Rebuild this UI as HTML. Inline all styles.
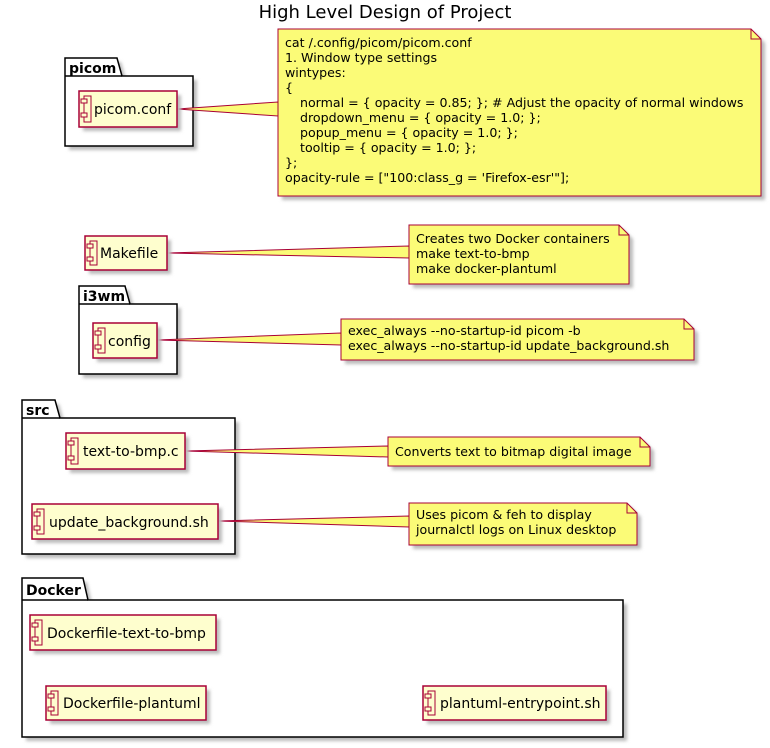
<!DOCTYPE html>
<html><head><meta charset="utf-8"><style>
html,body{margin:0;padding:0;background:#fff;}
svg{display:block;font-family:"DejaVu Sans","Liberation Sans",sans-serif;}
</style></head><body>
<svg width="770" height="748" viewBox="0 0 770 748" xmlns="http://www.w3.org/2000/svg">
<defs>
<filter id="sh" x="-10%" y="-10%" width="130%" height="140%"><feGaussianBlur stdDeviation="1.5"/></filter>
</defs>
<text x="385" y="18" font-size="18" text-anchor="middle">High Level Design of Project</text>

<g stroke="#000" stroke-width="1.5" fill="#fff">
<g>
<path d="M69,62 L121,62 L126,80 L197,80 L197,150 L69,150 Z" fill="#bbb" stroke="none" filter="url(#sh)"/>
<path d="M65,58 L117,58 L122,76 L193,76 L193,146 L65,146 Z"/><line x1="65" y1="76" x2="122" y2="76"/>
</g>
<g>
<path d="M83,290 L129,290 L134,308 L181,308 L181,378 L83,378 Z" fill="#bbb" stroke="none" filter="url(#sh)"/>
<path d="M79,286 L125,286 L130,304 L177,304 L177,374 L79,374 Z"/><line x1="79" y1="304" x2="130" y2="304"/>
</g>
<g>
<path d="M26,404 L59,404 L64,422 L239,422 L239,558 L26,558 Z" fill="#bbb" stroke="none" filter="url(#sh)"/>
<path d="M22,400 L55,400 L60,418 L235,418 L235,554 L22,554 Z"/><line x1="22" y1="418" x2="60" y2="418"/>
</g>
<g>
<path d="M26,582 L87,582 L92,604 L627,604 L627,741 L26,741 Z" fill="#bbb" stroke="none" filter="url(#sh)"/>
<path d="M22,578 L83,578 L88,600 L623,600 L623,737 L22,737 Z"/><line x1="22" y1="600" x2="88" y2="600"/>
</g>
</g>
<g font-size="14" font-weight="bold">
<text x="69" y="73">picom</text>
<text x="83" y="301">i3wm</text>
<text x="26" y="415">src</text>
<text x="26" y="595">Docker</text>
</g>

<g stroke="#A80036" stroke-width="1" fill="#FBFB77">
<polygon points="177,109 278,102 278,116"/>
<polygon points="167,253 409,246 409,258"/>
<polygon points="157,340 341,333 341,345"/>
<polygon points="185,451 388,446 388,457"/>
<polygon points="218,521 409,516 409,527"/>
</g>

<g font-size="12.6">
<g>
<path d="M282,33 L755,33 L765,43 L765,200 L282,200 Z" fill="#bbb" filter="url(#sh)"/>
<path d="M278,29 L751,29 L761,39 L761,196 L278,196 Z" fill="#FBFB77" stroke="#A80036"/>
<path d="M751,29 L751,39 L761,39" fill="none" stroke="#A80036"/>
<text x="285" y="47">cat /.config/picom/picom.conf</text>
<text x="285" y="62">1. Window type settings</text>
<text x="285" y="77">wintypes:</text>
<text x="285" y="92">{</text>
<text x="300" y="107">normal = { opacity = 0.85; }; # Adjust the opacity of normal windows</text>
<text x="300" y="122">dropdown_menu = { opacity = 1.0; };</text>
<text x="300" y="137">popup_menu = { opacity = 1.0; };</text>
<text x="300" y="152">tooltip = { opacity = 1.0; };</text>
<text x="285" y="167">};</text>
<text x="285" y="182">opacity-rule = ["100:class_g = 'Firefox-esr'"];</text>
</g>
<g>
<path d="M413,229 L623,229 L633,239 L633,288 L413,288 Z" fill="#bbb" filter="url(#sh)"/>
<path d="M409,225 L619,225 L629,235 L629,284 L409,284 Z" fill="#FBFB77" stroke="#A80036"/>
<path d="M619,225 L619,235 L629,235" fill="none" stroke="#A80036"/>
<text x="416" y="243">Creates two Docker containers</text>
<text x="416" y="258">make text-to-bmp</text>
<text x="416" y="273">make docker-plantuml</text>
</g>
<g>
<path d="M345,323 L688,323 L698,333 L698,364 L345,364 Z" fill="#bbb" filter="url(#sh)"/>
<path d="M341,319 L684,319 L694,329 L694,360 L341,360 Z" fill="#FBFB77" stroke="#A80036"/>
<path d="M684,319 L684,329 L694,329" fill="none" stroke="#A80036"/>
<text x="348" y="335">exec_always --no-startup-id picom -b</text>
<text x="348" y="350">exec_always --no-startup-id update_background.sh</text>
</g>
<g>
<path d="M392,441 L644,441 L654,451 L654,470 L392,470 Z" fill="#bbb" filter="url(#sh)"/>
<path d="M388,437 L640,437 L650,447 L650,466 L388,466 Z" fill="#FBFB77" stroke="#A80036"/>
<path d="M640,437 L640,447 L650,447" fill="none" stroke="#A80036"/>
<text x="395" y="456">Converts text to bitmap digital image</text>
</g>
<g>
<path d="M413,507 L631,507 L641,517 L641,549 L413,549 Z" fill="#bbb" filter="url(#sh)"/>
<path d="M409,503 L627,503 L637,513 L637,545 L409,545 Z" fill="#FBFB77" stroke="#A80036"/>
<path d="M627,503 L627,513 L637,513" fill="none" stroke="#A80036"/>
<text x="416" y="519">Uses picom &amp; feh to display</text>
<text x="416" y="534">journalctl logs on Linux desktop</text>
</g>
</g>

<g font-size="14">
<g>
<rect x="83" y="95" width="98" height="36" fill="#bbb" filter="url(#sh)"/>
<rect x="79" y="91" width="98" height="36" fill="#FEFECE" stroke="#A80036" stroke-width="1.5"/>
<rect x="84" y="96" width="7" height="26" fill="#FEFECE" stroke="#A80036"/>
<rect x="81" y="99" width="6" height="4" fill="#FEFECE" stroke="#A80036"/>
<rect x="81" y="113" width="6" height="4" fill="#FEFECE" stroke="#A80036"/>
<text x="94" y="114">picom.conf</text>
</g>
<g>
<rect x="89" y="240" width="82" height="34" fill="#bbb" filter="url(#sh)"/>
<rect x="85" y="236" width="82" height="34" fill="#FEFECE" stroke="#A80036" stroke-width="1.5"/>
<rect x="90" y="241" width="7" height="24" fill="#FEFECE" stroke="#A80036"/>
<rect x="87" y="244" width="6" height="4" fill="#FEFECE" stroke="#A80036"/>
<rect x="87" y="257" width="6" height="4" fill="#FEFECE" stroke="#A80036"/>
<text x="100" y="258">Makefile</text>
</g>
<g>
<rect x="97" y="327" width="64" height="35" fill="#bbb" filter="url(#sh)"/>
<rect x="93" y="323" width="64" height="35" fill="#FEFECE" stroke="#A80036" stroke-width="1.5"/>
<rect x="98" y="328" width="7" height="25" fill="#FEFECE" stroke="#A80036"/>
<rect x="95" y="331" width="6" height="4" fill="#FEFECE" stroke="#A80036"/>
<rect x="95" y="345" width="6" height="4" fill="#FEFECE" stroke="#A80036"/>
<text x="108" y="346">config</text>
</g>
<g>
<rect x="70" y="437" width="119" height="36" fill="#bbb" filter="url(#sh)"/>
<rect x="66" y="433" width="119" height="36" fill="#FEFECE" stroke="#A80036" stroke-width="1.5"/>
<rect x="71" y="438" width="7" height="26" fill="#FEFECE" stroke="#A80036"/>
<rect x="68" y="441" width="6" height="4" fill="#FEFECE" stroke="#A80036"/>
<rect x="68" y="456" width="6" height="4" fill="#FEFECE" stroke="#A80036"/>
<text x="83" y="456">text-to-bmp.c</text>
</g>
<g>
<rect x="36" y="508" width="186" height="35" fill="#bbb" filter="url(#sh)"/>
<rect x="32" y="504" width="186" height="35" fill="#FEFECE" stroke="#A80036" stroke-width="1.5"/>
<rect x="37" y="509" width="7" height="25" fill="#FEFECE" stroke="#A80036"/>
<rect x="34" y="512" width="6" height="4" fill="#FEFECE" stroke="#A80036"/>
<rect x="34" y="526" width="6" height="4" fill="#FEFECE" stroke="#A80036"/>
<text x="49" y="527">update_background.sh</text>
</g>
<g>
<rect x="34" y="619" width="186" height="35" fill="#bbb" filter="url(#sh)"/>
<rect x="30" y="615" width="186" height="35" fill="#FEFECE" stroke="#A80036" stroke-width="1.5"/>
<rect x="35" y="620" width="7" height="25" fill="#FEFECE" stroke="#A80036"/>
<rect x="32" y="623" width="6" height="4" fill="#FEFECE" stroke="#A80036"/>
<rect x="32" y="637" width="6" height="4" fill="#FEFECE" stroke="#A80036"/>
<text x="47" y="638">Dockerfile-text-to-bmp</text>
</g>
<g>
<rect x="50" y="690" width="160" height="34" fill="#bbb" filter="url(#sh)"/>
<rect x="46" y="686" width="160" height="34" fill="#FEFECE" stroke="#A80036" stroke-width="1.5"/>
<rect x="51" y="691" width="7" height="24" fill="#FEFECE" stroke="#A80036"/>
<rect x="48" y="694" width="6" height="4" fill="#FEFECE" stroke="#A80036"/>
<rect x="48" y="707" width="6" height="4" fill="#FEFECE" stroke="#A80036"/>
<text x="63" y="708">Dockerfile-plantuml</text>
</g>
<g>
<rect x="427" y="690" width="183" height="34" fill="#bbb" filter="url(#sh)"/>
<rect x="423" y="686" width="183" height="34" fill="#FEFECE" stroke="#A80036" stroke-width="1.5"/>
<rect x="428" y="691" width="7" height="24" fill="#FEFECE" stroke="#A80036"/>
<rect x="425" y="694" width="6" height="4" fill="#FEFECE" stroke="#A80036"/>
<rect x="425" y="707" width="6" height="4" fill="#FEFECE" stroke="#A80036"/>
<text x="440" y="708">plantuml-entrypoint.sh</text>
</g>
</g>
</svg>
</body></html>
